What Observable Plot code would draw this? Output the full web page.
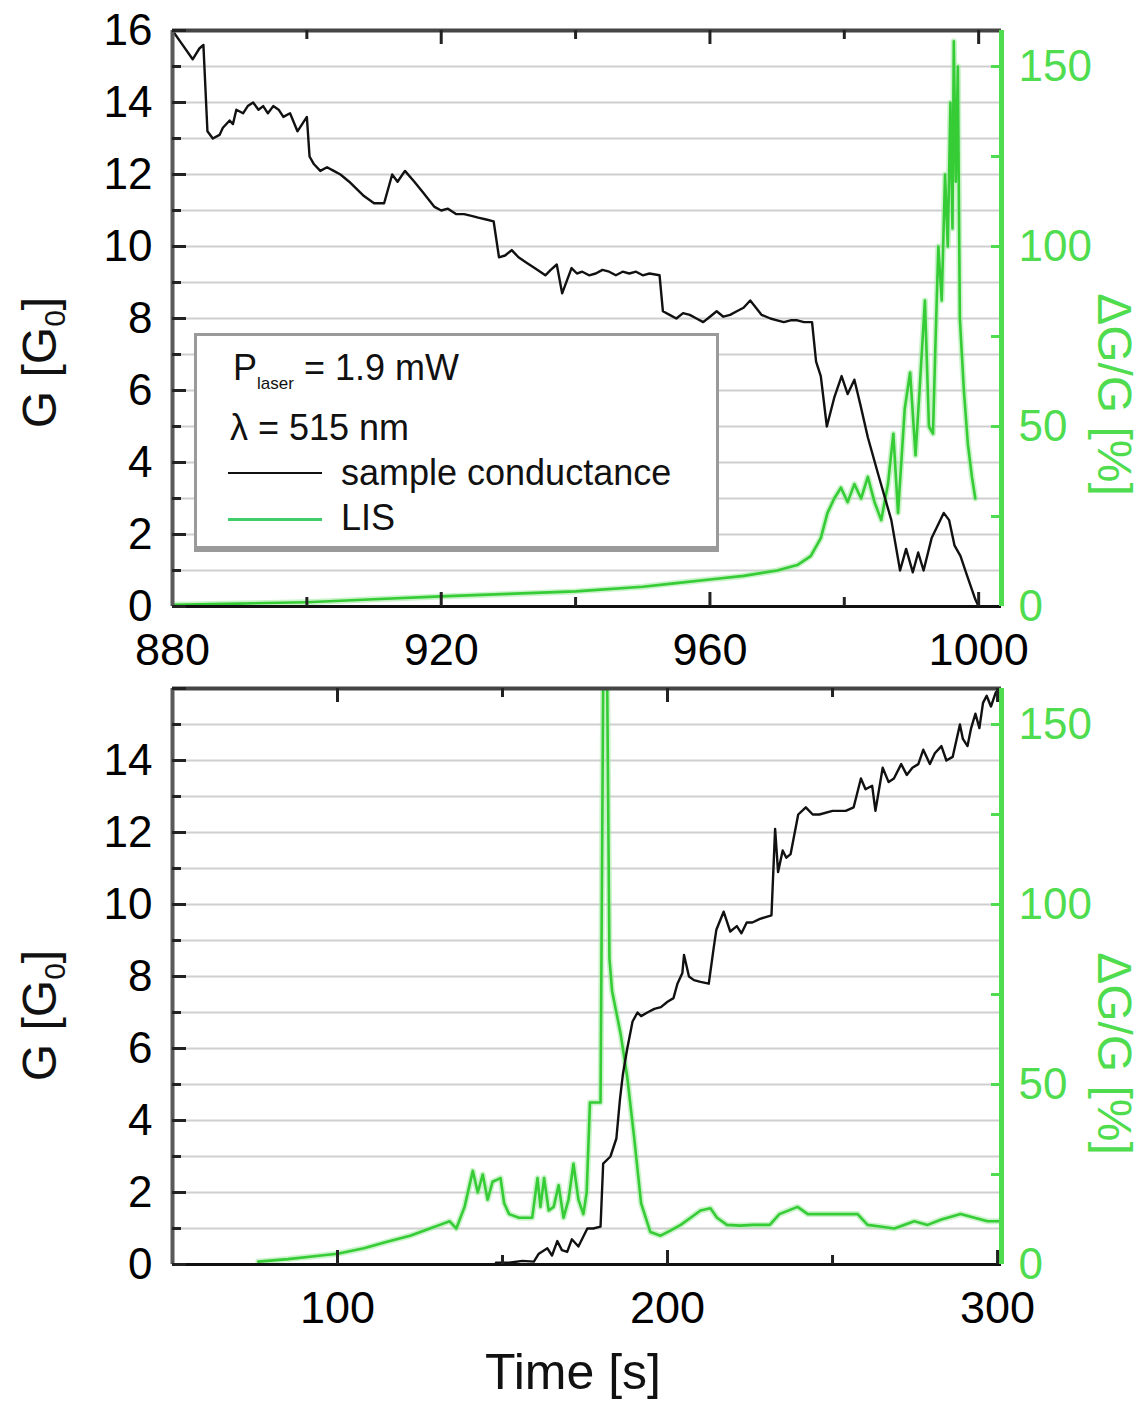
<!DOCTYPE html>
<html><head><meta charset="utf-8">
<script src="https://cdn.jsdelivr.net/npm/d3@7"></script>
<script src="https://cdn.jsdelivr.net/npm/@observablehq/plot@0.6"></script>
<style>
body{margin:0;background:#fff;font-family:"Liberation Sans",Arial,sans-serif;}
#fig{position:relative;width:1140px;height:1406px;overflow:hidden;}
#top{position:absolute;left:0;top:0;}
#bot{position:absolute;left:0;top:670px;}
.legend{position:absolute;left:194px;top:333px;width:519px;height:210px;border:3px solid #9a9a9a;border-bottom-width:6px;background:#fff;color:#111;font-size:36px;}
.legend .row{position:absolute;white-space:nowrap;line-height:36px;}
.legend .row sub{font-size:17px;vertical-align:-9px;}
.legend .ln{position:absolute;height:0;}
</style></head><body>
<div id="fig">
  <div id="top"></div>
  <div id="bot"></div>
  <div class="legend">
    <div class="row" style="left:36px;top:14px">P<sub>laser</sub> = 1.9 mW</div>
    <div class="row" style="left:33px;top:74px">λ = 515 nm</div>
    <div class="ln" style="left:31px;top:136px;width:94px;border-top:2px solid #111"></div>
    <div class="row" style="left:144px;top:119px">sample conductance</div>
    <div class="ln" style="left:31px;top:182px;width:94px;border-top:3px solid #3fcf6a"></div>
    <div class="row" style="left:144px;top:164px">LIS</div>
  </div>
</div>
<script>
// ---------- data ----------
const topTime = [880, 881.5, 883, 884, 884.6, 885.2, 886, 887, 887.5, 888.5, 889, 889.5, 890.5, 891.2, 892, 892.8, 893.5, 894.2, 895, 895.8, 896.5, 897.5, 898.6, 900, 900.4, 901, 902, 903, 904, 905, 906.3, 907.4, 908.5, 910, 911.5, 912.7, 913.5, 914.6, 916, 917.3, 919, 920, 921, 922.2, 923.4, 924.5, 925.5, 926.7, 927.8, 928.6, 929.5, 930.5, 931.5, 932.7, 933.9, 935.5, 936.3, 937.2, 938, 939.4, 940.2, 941, 942, 943, 944, 945, 946, 947, 948, 949, 950, 951, 952.5, 953, 954, 955, 956, 957, 958, 959, 960, 961, 962, 963, 964, 965, 966, 967.7, 969, 970, 971, 972, 973, 974, 975.2, 975.8, 976.5, 977.4, 978.5, 979.6, 980.5, 981.5, 982.4, 983.5, 985, 987, 988.3, 989.2, 990.2, 991, 991.8, 993, 994.8, 995.6, 996.4, 997.3, 998.2, 999.5, 1000];
const topG = [16.0, 15.6, 15.2, 15.5, 15.6, 13.2, 13.0, 13.1, 13.3, 13.5, 13.4, 13.8, 13.7, 13.9, 14.0, 13.8, 13.9, 13.7, 13.9, 13.8, 13.6, 13.7, 13.2, 13.6, 12.5, 12.3, 12.1, 12.2, 12.1, 12.0, 11.8, 11.6, 11.4, 11.2, 11.2, 12.0, 11.8, 12.1, 11.8, 11.5, 11.1, 11.0, 11.05, 10.9, 10.9, 10.85, 10.8, 10.75, 10.7, 9.7, 9.75, 9.9, 9.7, 9.55, 9.4, 9.2, 9.35, 9.5, 8.7, 9.4, 9.25, 9.3, 9.2, 9.25, 9.35, 9.3, 9.2, 9.3, 9.25, 9.3, 9.2, 9.25, 9.2, 8.2, 8.1, 8.0, 8.15, 8.1, 8.0, 7.9, 8.05, 8.2, 8.05, 8.1, 8.2, 8.3, 8.5, 8.1, 8.0, 7.95, 7.9, 7.95, 7.95, 7.9, 7.9, 6.8, 6.4, 5.0, 5.8, 6.4, 5.9, 6.3, 5.6, 4.7, 3.7, 2.4, 1.0, 1.6, 0.95, 1.5, 1.0, 1.9, 2.6, 2.4, 1.7, 1.4, 0.9, 0.2, 0.0];
const topLisTime = [880, 890, 900, 910, 920, 930, 940, 950, 955, 960, 965, 970, 973, 975, 976.5, 977.5, 978.5, 979.5, 980.5, 981.5, 982.5, 983.5, 984.5, 985.5, 986.5, 987.3, 988, 989, 989.8, 990.6, 991.2, 992, 992.6, 993.2, 993.6, 994, 994.5, 995, 995.4, 995.8, 996.1, 996.3, 996.6, 996.9, 997.2, 997.8, 998.4, 999, 999.5];
const topLis = [0.5, 0.8, 1.2, 2.0, 2.8, 3.5, 4.2, 5.5, 6.5, 7.5, 8.5, 10, 11.5, 14, 19, 26, 30, 33, 29, 34, 30, 36, 29, 24, 34, 48, 26, 55, 65, 42, 60, 85, 50, 48, 75, 100, 85, 120, 100, 140, 105, 157, 118, 150, 80, 60, 45, 36, 30];

const botTime = [148, 152, 156, 159.5, 161, 163.6, 165, 166.6, 168, 169.6, 171, 173, 175.7, 177.5, 179.7, 180.5, 182.7, 184.5, 185.6, 186.5, 187.8, 189.4, 190.9, 192, 193.9, 196, 198, 200, 201.8, 203, 204.5, 205, 206.5, 208, 210, 212.5, 214, 214.8, 217, 219, 221, 222.4, 224, 225.7, 228, 231.5, 232.6, 233.5, 234.9, 236, 237.3, 239.6, 241.9, 244, 246, 250, 254, 256.4, 258.6, 260, 262, 263, 265.2, 267, 268.6, 270.8, 272.5, 274.2, 276, 277.5, 279.5, 281, 283, 284.5, 286.4, 288.6, 289.5, 290.9, 292, 293.3, 294.5, 295.6, 296.7, 298, 299.5, 301];
const botG = [0.05, 0.05, 0.1, 0.08, 0.3, 0.45, 0.25, 0.65, 0.4, 0.35, 0.7, 0.5, 1.0, 1.0, 1.05, 2.8, 3.0, 3.5, 4.6, 5.3, 6.0, 6.75, 7.0, 6.9, 7.0, 7.1, 7.15, 7.3, 7.4, 7.8, 8.1, 8.6, 8.0, 7.9, 7.85, 7.8, 8.8, 9.3, 9.8, 9.25, 9.4, 9.2, 9.5, 9.5, 9.6, 9.7, 12.1, 10.9, 11.5, 11.3, 11.4, 12.5, 12.7, 12.5, 12.5, 12.6, 12.6, 12.7, 13.5, 13.2, 13.3, 12.6, 13.8, 13.4, 13.5, 13.9, 13.6, 13.8, 13.9, 14.3, 13.9, 14.2, 14.4, 14.0, 14.1, 15.0, 14.6, 14.4, 14.9, 15.3, 14.9, 15.6, 15.8, 15.5, 15.9, 16.0];
const botLisTime = [76, 85, 95, 100, 108, 115, 122, 128, 131, 134, 136, 138.5, 141, 142.5, 144, 145.5, 147, 149.4, 150.5, 152, 155, 159, 160.6, 161.5, 162.6, 164, 165.5, 167, 168.5, 170, 171.5, 173, 174.5, 175.5, 176.5, 179.7, 180.6, 181.6, 182.4, 183.2, 185.8, 187.8, 189.8, 192, 194.8, 197.9, 201, 204, 207, 210, 213, 215, 218, 222, 226, 231, 233.9, 239.4, 242.5, 250, 257.6, 260.6, 265, 268.7, 274.8, 278.8, 283, 288.8, 293, 297, 301];
const botLis = [0.8, 1.5, 2.5, 3, 4.5, 6.3, 8, 10, 11, 12, 10, 16, 26, 20, 25, 18, 23, 24, 17, 14, 13, 13, 24, 16, 24, 15, 16, 22, 13, 18, 28, 18, 14, 20, 45, 45, 175, 175, 85, 76, 64, 52, 36, 17, 9, 8, 9.5, 11, 13, 15, 15.6, 13, 11, 10.8, 11, 11, 14, 16, 14, 14, 14, 11, 10.5, 10, 12, 11, 12.5, 14, 13, 12, 12];

const topXDomain = [880, 1003.4];
const botXDomain = [50, 301.2];
const gDomain = [0, 16];
const pctMax = 160;
const topYLabels = [0, 2, 4, 6, 8, 10, 12, 14, 16];
const botYLabels = [0, 2, 4, 6, 8, 10, 12, 14];
const gMajor = [0, 2, 4, 6, 8, 10, 12, 14, 16];
const gMinor = [1, 3, 5, 7, 9, 11, 13, 15];
const gridG = [1, 2, 3, 4, 5, 6, 7, 8, 9, 10, 11, 12, 13, 14, 15];
const pctLabels = [0, 50, 100, 150];
const pctTicks = [25, 50, 75, 100, 125, 150];
const topXLabels = [880, 920, 960, 1000];
const topXMajor = [920, 960, 1000];
const topXMinor = [900, 940, 980];
const botXLabels = [100, 200, 300];
const botXMajor = [100, 200, 300];
const botXMinor = [150, 250];

// ---------- drawing ----------
const W = 1140, ML = 172, MR = 139, FW = W - ML - MR, FH = 576;
const GREEN = "#4fdc4f", LISC = "#36cc36";
const toG = p => p * gDomain[1] / pctMax;

function panel({xDomain, t, g, lt, lis, yLabels, xLabels, xMajor, xMinor, height, marginTop, timeLabel, gDy, rDy}) {
  const gData = t.map((v, i) => ({t: v, g: g[i]}));
  const lData = lt.map((v, i) => ({t: v, p: lis[i]}));
  const marks = [
    Plot.ruleY(gridG, {stroke: "#cfcfcf", strokeWidth: 2}),
    Plot.line(lData, {x: "t", y: d => toG(d.p), stroke: "#9eea9e", strokeOpacity: 0.55, strokeWidth: 6, clip: true}),
    Plot.line(lData, {x: "t", y: d => toG(d.p), stroke: LISC, strokeWidth: 2.6, clip: true}),
    Plot.line(gData, {x: "t", y: "g", stroke: "#111", strokeWidth: 2.4, clip: true}),
    // frame
    Plot.ruleY([gDomain[1]], {stroke: "#454545", strokeWidth: 4}),
    Plot.ruleY([gDomain[0]], {stroke: "#111", strokeWidth: 3}),
    Plot.ruleX([xDomain[0]], {stroke: "#5a5a5a", strokeWidth: 4}),
    Plot.ruleX([xDomain[1]], {stroke: GREEN, strokeWidth: 5}),
    // inward ticks
    Plot.tickY(gMajor, {y: d => d, insetRight: FW - 14, stroke: "#222", strokeWidth: 3}),
    Plot.tickY(gMinor, {y: d => d, insetRight: FW - 9, stroke: "#222", strokeWidth: 3}),
    Plot.tickY(pctTicks, {y: d => toG(d), insetLeft: FW - 10, stroke: GREEN, strokeWidth: 3}),
    Plot.tickX(xMajor, {x: d => d, insetTop: FH - 14, stroke: "#222", strokeWidth: 3}),
    Plot.tickX(xMinor, {x: d => d, insetTop: FH - 9, stroke: "#222", strokeWidth: 3}),
    Plot.tickX(xMajor, {x: d => d, insetBottom: FH - 14, stroke: "#222", strokeWidth: 3}),
    Plot.tickX(xMinor, {x: d => d, insetBottom: FH - 9, stroke: "#222", strokeWidth: 3}),
    // axes
    Plot.axisY(yLabels, {anchor: "left", tickSize: 0, tickPadding: 20, fontSize: 44, label: null}),
    Plot.axisY(pctLabels.map(toG), {anchor: "right", tickSize: 0, tickPadding: 17, fontSize: 44, fill: GREEN, tickFormat: d => String(Math.round(d * pctMax / gDomain[1])), label: null}),
    Plot.axisX(xLabels, {anchor: "bottom", tickSize: 0, tickPadding: 27, fontSize: 45, tickFormat: d => String(d), label: null}),
    // axis titles
    Plot.text(["G [G0]"], {text: d => d, frameAnchor: "left", textAnchor: "middle", dx: -132, dy: gDy, rotate: -90, fontSize: 48, fill: "#111"}),
    Plot.text(["ΔG/G [%]"], {text: d => d, frameAnchor: "right", textAnchor: "middle", dx: 112, dy: rDy, rotate: 90, fontSize: 48, fill: GREEN})
  ];
  if (timeLabel) marks.push(Plot.text([timeLabel], {text: d => d, frameAnchor: "bottom", textAnchor: "middle", dx: -14, dy: 124, fontSize: 50, fill: "#111"}));
  const svg = Plot.plot({
    width: W, height, marginLeft: ML, marginRight: MR, marginTop, marginBottom: height - marginTop - FH,
    x: {domain: xDomain}, y: {domain: gDomain},
    style: {fontFamily: "'Liberation Sans', Arial, sans-serif", background: "transparent", overflow: "visible"},
    marks
  });
  // subscript 0 in G0
  d3.select(svg).selectAll("text").filter(function () { return this.textContent === "G [G0]"; }).each(function () {
    const s = d3.select(this); s.text(null);
    s.append("tspan").text("G [G");
    s.append("tspan").attr("font-size", 30).attr("dy", 9).text("0");
    s.append("tspan").attr("dy", -9).text("]");
  });
  return svg;
}

document.getElementById("top").append(panel({
  xDomain: topXDomain, t: topTime, g: topG, lt: topLisTime, lis: topLis,
  yLabels: topYLabels, xLabels: topXLabels, xMajor: topXMajor, xMinor: topXMinor,
  height: 670, marginTop: 30, gDy: 44, rDy: 76
}));
document.getElementById("bot").append(panel({
  xDomain: botXDomain, t: botTime, g: botG, lt: botLisTime, lis: botLis,
  yLabels: botYLabels, xLabels: botXLabels, xMajor: botXMajor, xMinor: botXMinor,
  height: 736, marginTop: 18, timeLabel: "Time [s]", gDy: 39, rDy: 77
}));
</script>
</body></html>
